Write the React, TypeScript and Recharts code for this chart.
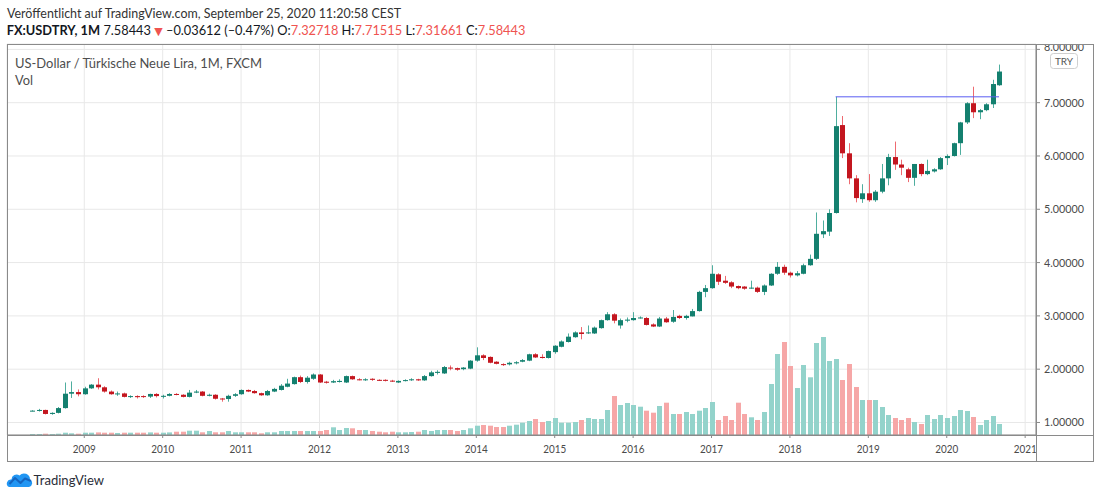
import React from 'react';
import { ComposedChart, Bar, XAxis, YAxis, CartesianGrid, ReferenceLine } from 'recharts';

// ---------- data (monthly USD/TRY, May 2008 .. Sep 2020) ----------
const FIRST_YEAR = 2008;
const FIRST_MONTH = 5;

const opens = [
  1.220, 1.222, 1.235, 1.160, 1.180, 1.270, 1.540, 1.570,
  1.530, 1.640, 1.710, 1.660, 1.580, 1.530, 1.545, 1.480, 1.495, 1.495, 1.485, 1.535,
  1.495, 1.500, 1.535, 1.520, 1.480, 1.560, 1.580, 1.500, 1.520, 1.450, 1.440, 1.500,
  1.530, 1.610, 1.590, 1.550, 1.510, 1.580, 1.610, 1.670, 1.720, 1.850, 1.760, 1.820,
  1.900, 1.765, 1.750, 1.760, 1.750, 1.870, 1.810, 1.805, 1.820, 1.800, 1.800, 1.785,
  1.750, 1.780, 1.795, 1.810, 1.790, 1.870, 1.930, 1.920, 2.030, 2.020, 2.000, 2.010,
  2.160, 2.260, 2.230, 2.140, 2.095, 2.090, 2.110, 2.140, 2.160, 2.280, 2.230, 2.210,
  2.320, 2.420, 2.510, 2.600, 2.690, 2.680, 2.670, 2.770, 2.920, 3.030, 2.820, 2.910,
  2.920, 2.960, 2.960, 2.840, 2.800, 2.950, 2.890, 3.000, 2.960, 2.990, 3.090, 3.450,
  3.520, 3.780, 3.660, 3.630, 3.560, 3.550, 3.520, 3.530, 3.450, 3.570, 3.790, 3.920,
  3.810, 3.760, 3.790, 3.950, 4.070, 4.530, 4.580, 4.930, 6.580, 6.050, 5.580, 5.190,
  5.300, 5.170, 5.330, 5.580, 5.980, 5.840, 5.750, 5.590, 5.850, 5.660, 5.710, 5.750,
  5.960, 6.000, 6.240, 6.630, 6.990, 6.820, 6.860, 6.970, 7.32718,
];
const highs = [
  1.230, 1.255, 1.240, 1.190, 1.290, 1.750, 1.770, 1.620,
  1.670, 1.720, 1.830, 1.680, 1.600, 1.580, 1.560, 1.510, 1.510, 1.510, 1.540, 1.550,
  1.520, 1.550, 1.550, 1.530, 1.610, 1.610, 1.590, 1.540, 1.530, 1.460, 1.520, 1.550,
  1.620, 1.620, 1.610, 1.560, 1.610, 1.650, 1.720, 1.820, 1.860, 1.880, 1.870, 1.920,
  1.910, 1.780, 1.800, 1.810, 1.880, 1.880, 1.830, 1.830, 1.830, 1.810, 1.810, 1.800,
  1.790, 1.810, 1.830, 1.820, 1.890, 1.970, 1.980, 2.060, 2.070, 2.030, 2.040, 2.170,
  2.410, 2.280, 2.240, 2.150, 2.110, 2.140, 2.150, 2.190, 2.290, 2.300, 2.280, 2.350,
  2.450, 2.540, 2.670, 2.710, 2.790, 2.820, 2.800, 2.930, 3.070, 3.050, 2.950, 2.970,
  3.070, 2.990, 2.980, 2.860, 2.980, 2.980, 3.110, 3.020, 3.020, 3.130, 3.470, 3.580,
  3.950, 3.800, 3.750, 3.650, 3.570, 3.560, 3.660, 3.550, 3.590, 3.800, 4.010, 3.960,
  3.830, 3.840, 3.980, 4.150, 4.940, 4.790, 5.000, 7.110, 6.750, 6.240, 5.640, 5.470,
  5.660, 5.360, 5.850, 6.040, 6.270, 5.930, 5.780, 5.850, 5.860, 5.930, 5.770, 5.980,
  6.030, 6.250, 6.640, 7.010, 7.300, 6.880, 6.990, 7.430, 7.71515,
];
const lows = [
  1.210, 1.205, 1.150, 1.145, 1.170, 1.260, 1.460, 1.490,
  1.520, 1.630, 1.620, 1.560, 1.520, 1.500, 1.470, 1.460, 1.450, 1.460, 1.460, 1.470,
  1.450, 1.490, 1.510, 1.470, 1.470, 1.550, 1.490, 1.490, 1.430, 1.390, 1.390, 1.480,
  1.520, 1.570, 1.540, 1.500, 1.500, 1.570, 1.600, 1.660, 1.710, 1.740, 1.730, 1.800,
  1.740, 1.730, 1.740, 1.750, 1.740, 1.800, 1.790, 1.780, 1.780, 1.780, 1.770, 1.760,
  1.740, 1.770, 1.780, 1.780, 1.780, 1.860, 1.900, 1.910, 1.980, 1.970, 1.980, 2.000,
  2.140, 2.170, 2.110, 2.090, 2.060, 2.070, 2.090, 2.130, 2.150, 2.210, 2.200, 2.200,
  2.290, 2.410, 2.500, 2.590, 2.560, 2.660, 2.660, 2.760, 2.910, 2.860, 2.760, 2.880,
  2.910, 2.950, 2.820, 2.790, 2.790, 2.870, 2.870, 2.940, 2.930, 2.990, 3.080, 3.350,
  3.510, 3.580, 3.600, 3.520, 3.500, 3.490, 3.510, 3.430, 3.390, 3.560, 3.770, 3.770,
  3.720, 3.740, 3.780, 3.940, 4.050, 4.460, 4.500, 4.920, 5.960, 5.470, 5.130, 5.120,
  5.140, 5.140, 5.300, 5.450, 5.740, 5.640, 5.510, 5.440, 5.620, 5.640, 5.690, 5.740,
  5.830, 5.990, 6.020, 6.600, 6.710, 6.690, 6.840, 6.900, 7.31661,
];
const closes = [
  1.222, 1.235, 1.160, 1.180, 1.270, 1.540, 1.570, 1.530,
  1.640, 1.710, 1.660, 1.580, 1.530, 1.545, 1.480, 1.495, 1.475, 1.480, 1.535, 1.495,
  1.500, 1.535, 1.520, 1.480, 1.560, 1.580, 1.500, 1.520, 1.445, 1.440, 1.500, 1.530,
  1.610, 1.580, 1.550, 1.510, 1.590, 1.630, 1.690, 1.730, 1.850, 1.760, 1.840, 1.900,
  1.750, 1.745, 1.775, 1.780, 1.870, 1.810, 1.805, 1.810, 1.800, 1.795, 1.785, 1.770,
  1.780, 1.795, 1.810, 1.790, 1.870, 1.940, 1.950, 2.040, 2.020, 1.990, 2.030, 2.160,
  2.260, 2.210, 2.120, 2.100, 2.085, 2.120, 2.130, 2.170, 2.280, 2.220, 2.210, 2.340,
  2.440, 2.520, 2.610, 2.690, 2.660, 2.690, 2.780, 2.920, 3.030, 2.910, 2.920, 2.930,
  2.960, 2.970, 2.830, 2.800, 2.950, 2.880, 2.980, 2.960, 3.000, 3.090, 3.450, 3.520,
  3.790, 3.640, 3.620, 3.550, 3.520, 3.510, 3.530, 3.450, 3.570, 3.790, 3.920, 3.810,
  3.760, 3.800, 3.950, 4.070, 4.540, 4.590, 4.930, 6.560, 6.050, 5.580, 5.210, 5.300,
  5.170, 5.330, 5.580, 5.980, 5.840, 5.780, 5.590, 5.850, 5.660, 5.720, 5.750, 5.960,
  6.000, 6.240, 6.630, 6.990, 6.820, 6.860, 6.970, 7.350, 7.58443,
];
const volumes = [
  1.0, 1.0, 1.3, 1.0, 1.3, 2.3, 1.7, 1.3,
  2.3, 2.3, 2.6, 2.3, 2.3, 2.0, 2.3, 2.3, 2.3, 2.3, 2.6, 2.3,
  2.3, 2.6, 3.3, 3.3, 4.3, 4.3, 2.7, 4.0, 2.7, 2.7, 4.0, 2.7,
  2.7, 2.7, 2.7, 1.7, 2.7, 2.7, 4.0, 4.0, 4.0, 4.0, 4.0, 4.0,
  4.0, 5.0, 7.7, 5.0, 7.0, 6.7, 5.0, 5.0, 4.0, 3.3, 2.7, 3.3,
  2.7, 2.7, 3.0, 3.3, 5.0, 4.0, 5.0, 5.0, 5.0, 4.0, 5.0, 6.7,
  9.3, 10, 9.3, 8, 8, 9.3, 10.3, 12.3, 14, 16, 13, 14,
  17, 12.3, 12.3, 13, 15, 17, 16, 16, 25, 39, 30, 32,
  30, 28.3, 24.3, 22.3, 29, 32.3, 21, 21, 23, 21, 24.3, 27,
  33, 15, 19, 15, 32.3, 21, 17.7, 15, 23, 51, 81, 93,
  69, 47, 70, 57.7, 92, 98, 74, 76, 55, 71, 48, 35,
  35, 35, 28, 20, 17, 15, 17, 13, 11, 20, 16, 20,
  17, 19, 25, 24, 18, 10, 15, 19, 11,
];

const yearLabels = ['2009', '2010', '2011', '2012', '2013', '2014', '2015', '2016', '2017', '2018', '2019', '2020', '2021'];
const priceTicks = [1, 2, 3, 4, 5, 6, 7, 8];
const levelPrice = 7.11;
const levelFrom = '2018-08';
const levelTo = '2020-09';

const publishedText = 'Veröffentlicht auf TradingView.com, September 25, 2020 11:20:58 CEST';
const paneTitle = 'US-Dollar / Türkische Neue Lira, 1M, FXCM';
const volTitle = 'Vol';
const currencyBadge = 'TRY';
const brand = 'TradingView';
const symbolText = 'FX:USDTRY, 1M';
const lastText = '7.58443';
const changeText = '–0.03612 (–0.47%)';
const ohlcLabels = ['O:', 'H:', 'L:', 'C:'];
const ohlcValues = ['7.32718', '7.71515', '7.31661', '7.58443'];

const months = opens.map((_, i) => {
  const m = FIRST_MONTH - 1 + i;
  return `${FIRST_YEAR + Math.floor(m / 12)}-${String((m % 12) + 1).padStart(2, '0')}`;
});
const monthIndex = (ym: string) => {
  const [y, m] = ym.split('-').map(Number);
  return (y - FIRST_YEAR) * 12 + (m - FIRST_MONTH);
};
const yearTicks = yearLabels.map((y) => monthIndex(`${y}-01`));
const topPriceTick = priceTicks[priceTicks.length - 1];

const data = months.map((month, i) => ({
  i,
  month,
  open: opens[i],
  high: highs[i],
  low: lows[i],
  close: closes[i],
  range: [lows[i], highs[i]],
  volume: volumes[i],
  up: closes[i] >= opens[i],
}));

// ---------- styles ----------
const FONT = 'Lato, "Noto Sans", "DejaVu Sans", sans-serif';
const UP_BODY = '#14806f';
const DOWN_BODY = '#c3161f';
const UP_WICK = '#4fae9f';
const DOWN_WICK = '#ee6a70';
const UP_VOL = '#93d3cb';
const DOWN_VOL = '#f6a7a7';
const RED = '#ef5350';
const FRAME = '#8a8a8a';
const GRID = '#e8e8e8';

const Candle = (props: any) => {
  const { x, y, width, height, payload } = props;
  if (x == null || y == null || !payload) return null;
  const { open, close, high, low } = payload;
  const top = Math.min(y, y + height);
  const h = Math.abs(height);
  const span = high - low || 1;
  const py = (v: number) => top + ((high - v) / span) * h;
  const up = close >= open;
  const bTop = py(Math.max(open, close));
  const bBot = py(Math.min(open, close));
  const cx = Math.round(x + width / 2) + 0.5;
  return (
    <g>
      <line x1={cx} x2={cx} y1={top} y2={top + h} stroke={up ? UP_WICK : DOWN_WICK} strokeWidth={1} />
      <rect x={cx - 2.5} y={bTop} width={5} height={Math.max(1, bBot - bTop)} fill={up ? UP_BODY : DOWN_BODY} />
    </g>
  );
};

const VolBar = (props: any) => {
  const { x, y, width, height, payload } = props;
  if (x == null || y == null || !payload) return null;
  const cx = Math.round(x + width / 2) + 0.5;
  return <rect x={cx - 2.5} y={Math.min(y, y + height)} width={5} height={Math.abs(height)} fill={payload.up ? UP_VOL : DOWN_VOL} />;
};

const PriceTick = (p: any) => {
  const v = Number(p.payload.value);
  return (
    <text x={p.x} y={p.y + (v === topPriceTick ? 1.5 : 4)} fill="#4a4a4a" fontSize={12} fontFamily={FONT} textLength={40} lengthAdjust="spacingAndGlyphs">
      {v.toFixed(5)}
    </text>
  );
};

const YearTick = (p: any) => {
  const k = yearTicks.indexOf(p.payload.value);
  return (
    <text x={p.x} y={p.y + 13} fill="#4a4a4a" fontSize={12} fontFamily={FONT} textAnchor="middle" textLength={23} lengthAdjust="spacingAndGlyphs">
      {k >= 0 ? yearLabels[k] : ''}
    </text>
  );
};

export default function App() {
  return (
    <div style={{ position: 'absolute', left: 0, top: 0, width: 1100, height: 499, background: '#fff', overflow: 'hidden' }}>
      <ComposedChart width={1100} height={499} data={data} margin={{ top: 44, right: 6, bottom: 37, left: 7 }}>
        <CartesianGrid stroke={GRID} strokeDasharray="" />
        <XAxis
          dataKey="i"
          type="number"
          domain={[-3.826, 153.66]}
          ticks={yearTicks}
          interval={0}
          height={27}
          tick={<YearTick />}
          tickSize={3}
          tickMargin={2}
          axisLine={{ stroke: FRAME }}
          tickLine={{ stroke: FRAME }}
          allowDataOverflow
        />
        <XAxis xAxisId="v" dataKey="i" type="number" domain={[-3.826, 153.66]} hide allowDataOverflow />
        <YAxis
          orientation="right"
          domain={[0.765, 8.101]}
          ticks={priceTicks}
          interval={0}
          width={58}
          tick={<PriceTick />}
          tickSize={4}
          tickMargin={4}
          axisLine={{ stroke: FRAME }}
          tickLine={{ stroke: FRAME }}
          allowDataOverflow
        />
        <YAxis yAxisId="v" domain={[0, 391]} hide allowDataOverflow />
        <Bar xAxisId="v" yAxisId="v" dataKey="volume" barSize={5} shape={<VolBar />} isAnimationActive={false} />
        <Bar dataKey="range" barSize={5} shape={<Candle />} isAnimationActive={false} />
        <ReferenceLine
          segment={[{ x: monthIndex(levelFrom), y: levelPrice }, { x: monthIndex(levelTo), y: levelPrice }]}
          stroke="#5a5cf2"
          strokeWidth={1}
          ifOverflow="visible"
        />
      </ComposedChart>

      <svg width={1100} height={499} style={{ position: 'absolute', left: 0, top: 0, pointerEvents: 'none' }}>
        <text x={7} y={17.5} fontSize={13.5} fontFamily={FONT} fill="#333" textLength={394} lengthAdjust="spacingAndGlyphs">
          {publishedText}
        </text>
        <text x={6.7} y={34.5} fontSize={12.8} fontFamily={FONT} fill="#131722">
          <tspan fontWeight={700}>{symbolText}</tspan>
          <tspan>{'  ' + lastText + ' '}</tspan>
          <tspan fill={RED} fontFamily='"DejaVu Sans", sans-serif' fontSize={11}>▼</tspan>
          <tspan>{' ' + changeText + ' '}</tspan>
          {ohlcLabels.map((l, k) => (
            <React.Fragment key={k}>
              <tspan>{(k > 0 ? ' ' : '') + l}</tspan>
              <tspan fill={RED}>{ohlcValues[k]}</tspan>
            </React.Fragment>
          ))}
        </text>

        {/* pane frame */}
        <rect x={1037} y={30} width={57} height={14} fill="#fff" />
        <rect x={7.5} y={44.5} width={1086} height={417} fill="none" stroke={FRAME} strokeWidth={1} />
        <line x1={1036.5} x2={1036.5} y1={44} y2={462} stroke={FRAME} strokeWidth={1} />
        <line x1={7} x2={1094} y1={435.5} y2={435.5} stroke={FRAME} strokeWidth={1} />

        <text x={15} y={67.5} fontSize={13.5} fontFamily={FONT} fill="#4d4d4d" textLength={247} lengthAdjust="spacingAndGlyphs">
          {paneTitle}
        </text>
        <text x={15} y={84.5} fontSize={13.5} fontFamily={FONT} fill="#4d4d4d" textLength={18} lengthAdjust="spacingAndGlyphs">
          {volTitle}
        </text>

        <rect x={1050.5} y={53.5} width={27} height={15} rx={3} fill="#fff" stroke="#cfcfcf" />
        <text x={1064} y={65} fontSize={10} fontFamily={FONT} fill="#555" textAnchor="middle">{currencyBadge}</text>

        {/* footer logo */}
        <g>
          <path d="M9 487 L29 487 A4 4 0 0 0 30 479.5 A6 6 0 0 0 19.5 475.5 A5 5 0 0 0 11.5 479.5 A4 4 0 0 0 9 487 Z" fill="#2196f3" />
          <polyline points="9.5,484 15,478 20.5,483 25,478.5 31,481" fill="none" stroke="#1565c0" strokeWidth={2} strokeLinejoin="round" />
        </g>
        <text x={33.5} y={485} fontSize={14} fontFamily={FONT} fill="#2a2e39" textLength={70.5} lengthAdjust="spacingAndGlyphs">
          {brand}
        </text>
      </svg>
    </div>
  );
}
